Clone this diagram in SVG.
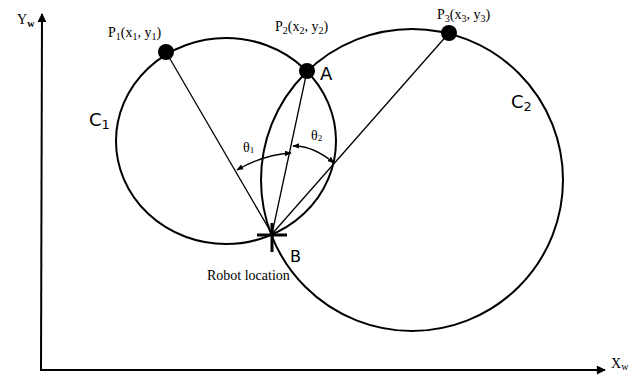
<svg xmlns="http://www.w3.org/2000/svg" width="639" height="376" viewBox="0 0 639 376">
<style>
.ax{stroke:#000;stroke-width:2;fill:none}
.circ{stroke:#000;stroke-width:2;fill:none}
.ln{stroke:#000;stroke-width:1.3;fill:none}
.ang{stroke:#000;stroke-width:1.3;fill:none;marker-start:url(#ah);marker-end:url(#ah)}
.serif{font-family:"Liberation Serif","Times New Roman",serif;font-size:14px;fill:#000}
.sub{font-size:10px}
.sans{font-family:"DejaVu Sans","Liberation Sans",sans-serif;fill:#000}
</style>
<defs>
<marker id="ah" viewBox="0 0 10 10" refX="9" refY="5" markerWidth="7" markerHeight="7" orient="auto-start-reverse" markerUnits="userSpaceOnUse">
<path d="M0,1 L10,5 L0,9 Z" fill="#000"/>
</marker>
<marker id="axh" viewBox="0 0 10 10" refX="9" refY="5" markerWidth="10" markerHeight="9" orient="auto" markerUnits="userSpaceOnUse">
<path d="M0,0 L10,5 L0,10 Z" fill="#000"/>
</marker>
</defs>
<rect width="639" height="376" fill="#fff"/>

<g id="axes">
<line class="ax" x1="41" y1="371" x2="42" y2="14" marker-end="url(#axh)"/>
<line class="ax" x1="40" y1="370" x2="605" y2="370" marker-end="url(#axh)"/>
<text class="serif" x="17" y="24">Y<tspan class="sub" dy="3" font-weight="bold">w</tspan></text>
<text class="serif" x="611" y="368">X<tspan class="sub" dy="2">w</tspan></text>
</g>

<g id="C1">
<ellipse class="circ" cx="226" cy="141" rx="110" ry="103"/>
<text class="sans" x="89" y="126" font-size="18">C<tspan font-size="13" dy="3">1</tspan></text>
</g>

<g id="C2">
<circle class="circ" cx="412" cy="180" r="151"/>
<text class="sans" x="511" y="108" font-size="18">C<tspan font-size="13" dy="3">2</tspan></text>
</g>

<g id="connectors">
<line class="ln" x1="166" y1="52" x2="272" y2="234"/>
<line class="ln" x1="307" y1="71" x2="272" y2="234"/>
<line class="ln" x1="449" y1="33" x2="272" y2="234"/>
<path class="ang" d="M237,170 Q262.6,155 291,153"/>
<path class="ang" d="M293,146 Q313,145.5 334,163"/>
</g>

<g id="theta1">
<text class="serif" x="243" y="152" font-size="13">θ<tspan font-size="9" dy="1">1</tspan></text>
</g>
<g id="theta2">
<text class="serif" x="311" y="140" font-size="13">θ<tspan font-size="9" dy="1">2</tspan></text>
</g>

<g id="P1">
<circle cx="166" cy="52" r="8" fill="#000"/>
<text class="serif" x="108" y="37">P<tspan class="sub" dy="3">1</tspan><tspan dy="-3">(x</tspan><tspan class="sub" dy="3">1</tspan><tspan dy="-3">, y</tspan><tspan class="sub" dy="3">1</tspan><tspan dy="-3">)</tspan></text>
</g>

<g id="P2">
<circle cx="307" cy="71" r="8" fill="#000"/>
<text class="serif" x="275" y="31">P<tspan class="sub" dy="3">2</tspan><tspan dy="-3">(x</tspan><tspan class="sub" dy="3">2</tspan><tspan dy="-3">, y</tspan><tspan class="sub" dy="3">2</tspan><tspan dy="-3">)</tspan></text>
<text class="sans" x="320" y="80" font-size="18">A</text>
</g>

<g id="P3">
<circle cx="449" cy="33" r="8" fill="#000"/>
<text class="serif" x="437" y="19">P<tspan class="sub" dy="3">3</tspan><tspan dy="-3">(x</tspan><tspan class="sub" dy="3">3</tspan><tspan dy="-3">, y</tspan><tspan class="sub" dy="3">3</tspan><tspan dy="-3">)</tspan></text>
</g>

<g id="B">
<line x1="257" y1="235" x2="287" y2="235" stroke="#000" stroke-width="3"/>
<line x1="272" y1="223" x2="272" y2="252" stroke="#000" stroke-width="3"/>
<text class="sans" x="290" y="262" font-size="16">B</text>
<text class="serif" x="207" y="280">Robot location</text>
</g>
</svg>
